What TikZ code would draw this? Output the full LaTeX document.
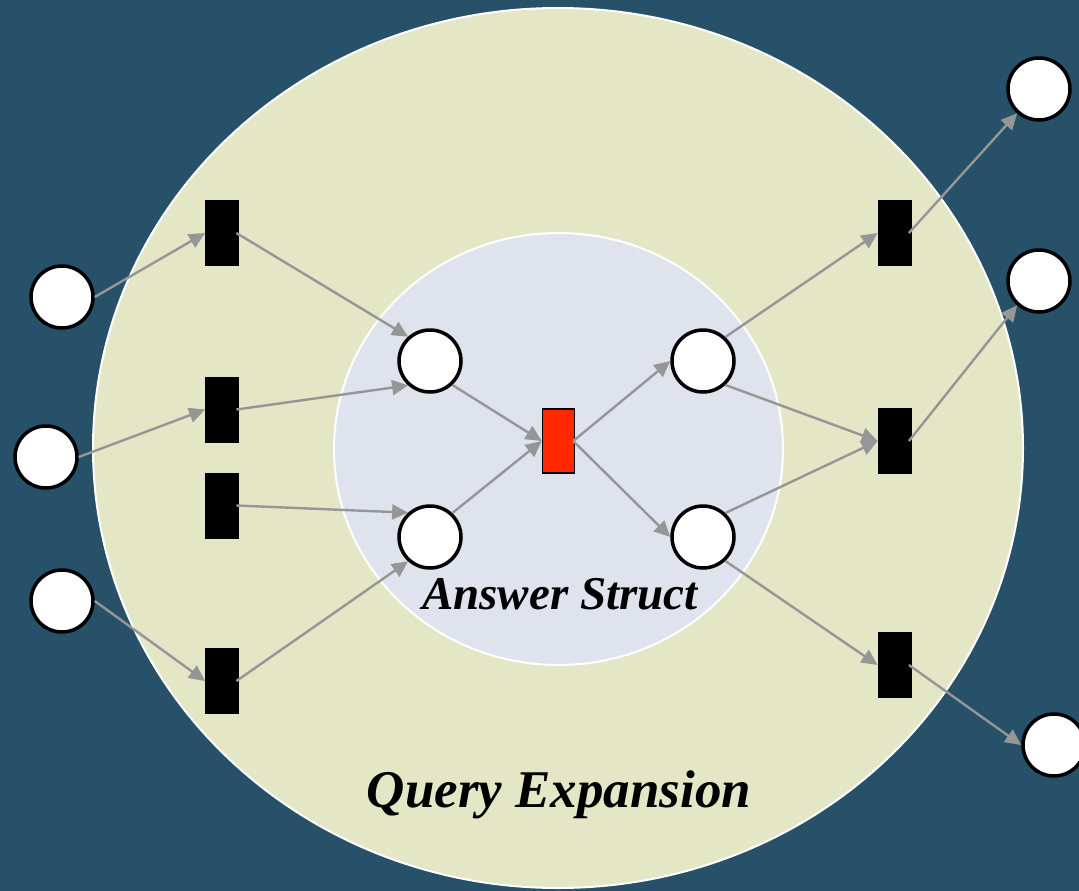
\documentclass[tikz,border=0pt]{standalone}
\usepackage{fontspec}
\setmainfont{Liberation Serif}
\usetikzlibrary{arrows.meta}
\definecolor{bgblue}{RGB}{39,80,105}
\definecolor{outerfill}{RGB}{227,231,197}
\definecolor{innerfill}{RGB}{222,227,238}
\definecolor{arrowgray}{RGB}{150,150,150}
\definecolor{firered}{RGB}{255,40,0}
\tikzset{
  place/.style={circle, draw=black, fill=white, line width=3.5pt, minimum size=62pt, inner sep=0pt},
  trans/.style={rectangle, draw=black, fill=black, line width=0.8pt, minimum width=33pt, minimum height=65pt, inner sep=0pt},
  redtrans/.style={rectangle, draw=black, fill=firered, line width=1.5pt, minimum width=32pt, minimum height=64pt, inner sep=0pt},
  conn/.style={draw=arrowgray, line width=2.4pt, -{Triangle[length=16pt,width=15pt]}},
  lbl/.style={font=\fontsize{53}{60}\selectfont\bfseries\itshape, text=black, inner sep=0pt, anchor=base}
}
\begin{document}
\begin{tikzpicture}[x=1pt,y=-1pt]
\useasboundingbox (0,0) rectangle (1079,891);
\clip (0,0) rectangle (1079,891);
\fill[bgblue] (0,0) rectangle (1079,891);
% ellipses
\draw[white, line width=2pt, fill=outerfill] (558,448) ellipse [x radius=465, y radius=440];
\draw[white, line width=2pt, fill=innerfill] (558.5,449) ellipse [x radius=224.5, y radius=216];
% labels
\node[lbl] (qe) at (559,807) {Query Expansion};
\node[lbl, font=\fontsize{47}{54}\selectfont\bfseries\itshape] (as) at (560,609) {Answer Struct};
% places
\node[place] (L1) at (62,297) {};
\node[place] (L2) at (46,457) {};
\node[place] (L3) at (62,601) {};
\node[place] (P1) at (430,361) {};
\node[place] (P2) at (430,537) {};
\node[place] (P3) at (703,361) {};
\node[place] (P4) at (703,537) {};
\node[place] (O1) at (1039,89) {};
\node[place] (O2) at (1039,281) {};
\node[place] (O3) at (1054,745) {};
% transitions
\node[trans] (T1) at (222,233) {};
\node[trans] (T2) at (222,409.5) {};
\node[trans] (T3) at (222,505.5) {};
\node[trans] (T4) at (222,681) {};
\node[trans] (U1) at (894.5,233) {};
\node[trans] (U2) at (894.5,441) {};
\node[trans] (U3) at (894.5,665) {};
\node[redtrans] (R) at (558.5,441) {};
% connectors
\draw[conn] (L1.east) -- (T1.west);
\draw[conn] (L2.east) -- (T2.west);
\draw[conn] (L3.east) -- (T4.west);
\draw[conn] ([xshift=-2.5pt]T1.east) -- (P1.132);
\draw[conn] ([xshift=-2.5pt]T2.east) -- (P1.228);
\draw[conn] ([xshift=-2.5pt]T3.east) -- (P2.132);
\draw[conn] ([xshift=-2.5pt]T4.east) -- (P2.228);
\draw[conn] (P1.313) -- (R.west);
\draw[conn] (P2.47) -- (R.west);
\draw[conn] ([xshift=-2pt]R.east) -- (P3.west);
\draw[conn] ([xshift=-2pt]R.east) -- (P4.west);
\draw[conn] (P3.47) -- (U1.west);
\draw[conn] (P3.313) -- (U2.west);
\draw[conn] (P4.47) -- (U2.west);
\draw[conn] (P4.313) -- (U3.west);
\draw[conn] ([xshift=-2.5pt]U1.east) -- (O1.228);
\draw[conn] ([xshift=-2.5pt]U2.east) -- (O2.228);
\draw[conn] ([xshift=-2.5pt]U3.east) -- (O3.west);
\end{tikzpicture}
\end{document}
